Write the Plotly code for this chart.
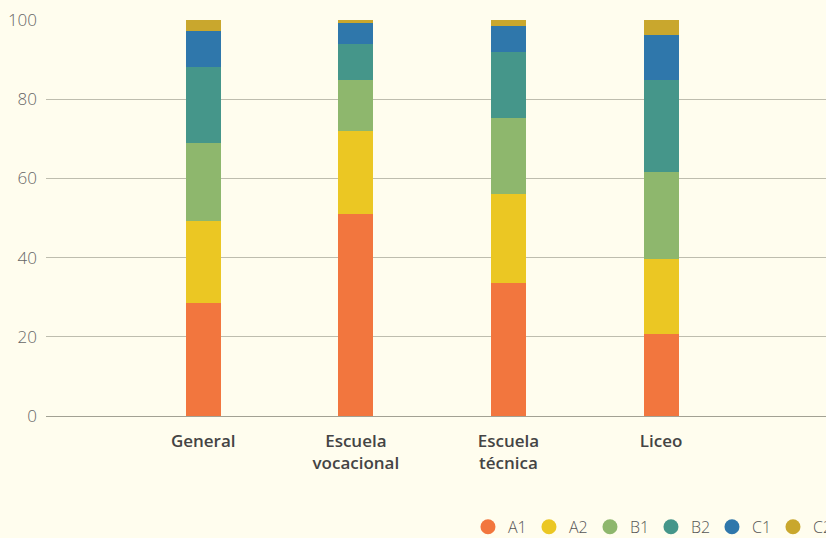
import plotly.graph_objects as go

# School types and CEFR level shares (percent of students)
schools = ["General", "Escuela<br>vocacional", "Escuela<br>técnica", "Liceo"]
levels = ["A1", "A2", "B1", "B2", "C1", "C2"]

a1 = [28.6, 51.1, 33.7, 20.8]
a2 = [20.7, 20.9, 22.4, 18.9]
b1 = [19.7, 12.9, 19.2, 22.0]
b2 = [19.1, 9.0, 16.6, 23.2]
c1 = [9.1, 5.3, 6.6, 11.3]
c2 = [2.8, 0.8, 1.5, 3.8]

colors = ["#f2763e", "#ebc723", "#8eb76d", "#45968a", "#2f77ab", "#c9a72d"]
y_ticks = [0, 20, 40, 60, 80, 100]

BG = "#fffdee"
FONT = "'Open Sans', 'Noto Sans', sans-serif"

fig = go.Figure()

for name, vals, col in zip(levels, [a1, a2, b1, b2, c1, c2], colors):
    fig.add_trace(go.Bar(
        x=schools, y=vals, name=name,
        marker=dict(color=col, line=dict(width=0)),
        width=0.23, showlegend=False,
    ))
    # circle swatch for the legend
    fig.add_trace(go.Scatter(
        x=[None], y=[None], mode="markers", name=name,
        marker=dict(symbol="circle", size=15, color=col),
    ))

fig.update_layout(
    barmode="stack",
    width=826, height=538,
    paper_bgcolor=BG, plot_bgcolor=BG,
    margin=dict(l=46, r=0, t=20, b=122, autoexpand=False),
    font=dict(family=FONT),
    showlegend=True,
    legend=dict(
        orientation="h", traceorder="normal", entrywidth=16,
        x=0.541, xanchor="left", y=-0.280, yanchor="middle",
        font=dict(size=16, color="#555555", weight=300),
        bgcolor="rgba(0,0,0,0)", itemclick=False,
    ),
    xaxis=dict(
        type="category", range=[-1.03, 4.08],
        showgrid=False, showline=False, ticks="",
        tickfont=dict(size=17, color="#444444", weight=600),
        ticklabelstandoff=13,
    ),
    yaxis=dict(
        range=[0, 100], tickvals=y_ticks,
        showgrid=True, gridcolor="rgba(70,70,55,0.35)", gridwidth=1,
        zeroline=True, zerolinecolor="rgba(70,70,55,0.5)", zerolinewidth=1,
        layer="above traces", showline=False, ticks="",
        tickfont=dict(size=17, color="#666666", weight=300),
        ticklabelstandoff=8,
    ),
)

# drop the browser's default body margin so the chart sits at the page corner
fig.write_html(
    "out.html",
    config={"displayModeBar": False},
    post_script="document.body.style.margin='0';",
)
